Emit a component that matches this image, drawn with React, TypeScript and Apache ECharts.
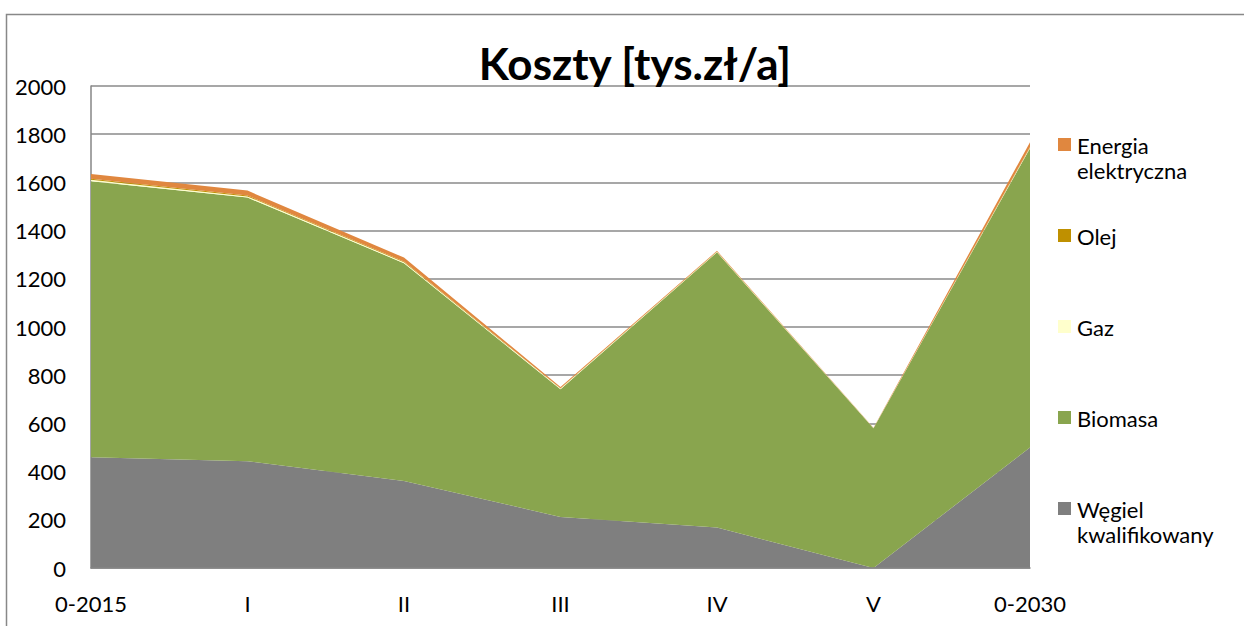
import React, { useEffect, useRef } from "react";
import * as echarts from "echarts";

const categories = ["0-2015", "I", "II", "III", "IV", "V", "0-2030"];
const seriesNames = ["Węgiel kwalifikowany", "Biomasa", "Gaz", "Olej", "Energia elektryczna"];
const wegiel = [460, 443, 361, 212, 168, 0, 500];
const biomasa = [1145, 1094, 904, 530, 1142, 580, 1242];
const gaz = [6, 5, 4, 3, 2, 1, 3];
const olej = [4, 4, 3, 1, 1, 0, 2];
const energia = [20, 20, 16, 5, 3, 1, 20];
const yTicks = { min: 0, max: 2000, interval: 200 };
const titleText = "Koszty [tys.zł/a]";

const colors = ["#7f7f7f", "#89a54e", "#ffffcc", "#bf9000", "#e0873f"];
const FONT = "Lato";

export default function App() {
  const ref = useRef<HTMLDivElement>(null);
  useEffect(() => {
    if (!ref.current) return;
    const chart = echarts.init(ref.current, undefined, { renderer: "svg" });
    const values = [wegiel, biomasa, gaz, olej, energia];
    const series = seriesNames.map((name, i) => ({
      name,
      type: "line" as const,
      stack: "total",
      data: values[i],
      showSymbol: false,
      symbol: "none",
      lineStyle: { width: 0 },
      areaStyle: { color: colors[i], opacity: 1 },
      itemStyle: { color: colors[i] },
      z: 2,
    }));

    // custom legend (reverse order, icon aligned with first text line)
    const legendOrder = seriesNames.map((n, i) => i).reverse();
    const legendGraphics: any[] = [];
    legendOrder.forEach((si, k) => {
      const cy = 145 + k * 91;
      legendGraphics.push({
        type: "rect",
        left: 1058,
        top: cy - 7,
        shape: { width: 13, height: 13 },
        style: { fill: colors[si] },
      });
      const words = seriesNames[si].split(" ");
      words.forEach((w, li) => {
        legendGraphics.push({
          type: "text",
          left: 1077,
          top: cy - 11 + li * 25,
          style: {
            text: w,
            fill: "#000",
            font: `22px ${FONT}`,
            lineHeight: 22,
            verticalAlign: "top",
          },
        });
      });
    });

    chart.setOption({
      animation: false,
      backgroundColor: "#fff",
      color: colors,
      title: {
        text: titleText,
        left: 630,
        top: 36,
        textAlign: "center",
        textStyle: { fontFamily: FONT, fontSize: 44, fontWeight: "bold", color: "#000" },
      },
      legend: { show: false },
      grid: { left: 91, right: 214, top: 86, bottom: 58, containLabel: false },
      xAxis: {
        type: "category",
        data: categories,
        boundaryGap: false,
        axisLine: { show: true, lineStyle: { color: "#868686", width: 1.5 } },
        axisTick: { show: false },
        axisLabel: { color: "#000", fontFamily: FONT, fontSize: 22, margin: 24 },
        splitLine: { show: false },
        z: 5,
      },
      yAxis: {
        type: "value",
        min: yTicks.min,
        max: yTicks.max,
        interval: yTicks.interval,
        axisLine: { show: true, lineStyle: { color: "#868686", width: 1.5 } },
        axisTick: { show: false },
        axisLabel: {
          color: "#000",
          fontFamily: FONT,
          fontSize: 22,
          margin: 25,
          formatter: (v: number) => String(v),
        },
        splitLine: { show: true, lineStyle: { color: "#8a8a8a", width: 1.5 } },
      },
      graphic: [
        {
          type: "rect",
          left: 4,
          top: 12,
          shape: { width: 1300, height: 700 },
          style: { fill: "none", stroke: "#888", lineWidth: 1.5 },
          silent: true,
        },
        ...legendGraphics,
      ],
      series,
    });
    return () => chart.dispose();
  }, []);
  return (
    <div
      ref={ref}
      style={{ position: "absolute", left: 0, top: 0, width: 1244, height: 626 }}
    />
  );
}
